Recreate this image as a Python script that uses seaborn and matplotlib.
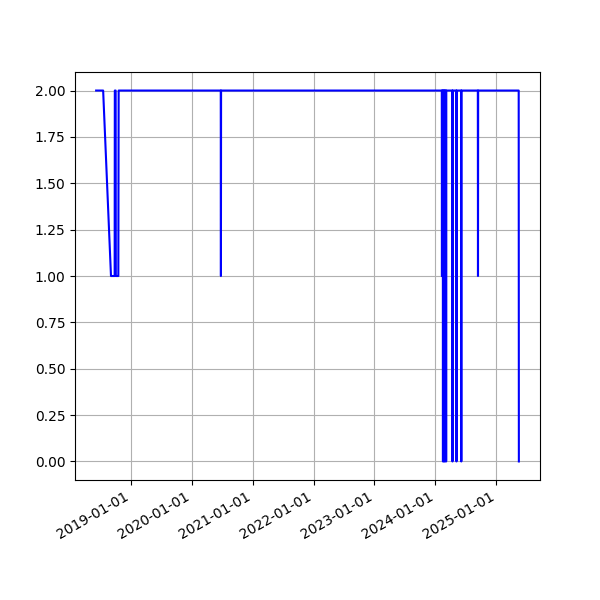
import pandas as pd
import matplotlib
matplotlib.use("Agg")
import matplotlib.pyplot as plt
import matplotlib.dates as mdates
import seaborn as sns

dates = [
    "2018-06-08", "2018-07-20", "2018-09-05", "2018-09-27", "2018-09-28",
    "2018-10-03", "2018-10-04", "2018-10-19", "2018-10-21",
    "2020-06-24", "2020-06-25", "2020-06-26",
    "2024-02-09", "2024-02-10", "2024-02-11",
    "2024-02-15", "2024-02-16", "2024-02-17",
    "2024-02-21", "2024-02-22", "2024-02-23",
    "2024-02-27", "2024-02-28", "2024-02-29",
    "2024-03-05", "2024-03-06", "2024-03-07",
    "2024-04-12", "2024-04-13", "2024-04-14",
    "2024-05-06", "2024-05-07", "2024-05-08",
    "2024-06-04", "2024-06-05", "2024-06-06",
    "2024-09-12", "2024-09-13", "2024-09-14",
    "2025-05-15", "2025-05-16",
]
values = [
    2, 2, 1, 1, 2,
    2, 1, 1, 2,
    2, 1, 2,
    2, 1, 2,
    2, 0, 2,
    2, 0, 2,
    2, 0, 2,
    2, 0, 2,
    2, 0, 2,
    2, 0, 2,
    2, 0, 2,
    2, 1, 2,
    2, 0,
]

df = pd.DataFrame({"date": pd.to_datetime(dates), "value": values})

fig, ax = plt.subplots(figsize=(6, 6), dpi=100)
sns.lineplot(data=df, x="date", y="value", color="blue", ax=ax)
ax.set_xlabel("")
ax.set_ylabel("")
ax.grid(True)
ax.xaxis.set_major_locator(mdates.YearLocator())
ax.xaxis.set_major_formatter(mdates.DateFormatter("%Y-%m-%d"))
fig.autofmt_xdate()
fig.savefig("out.png")
